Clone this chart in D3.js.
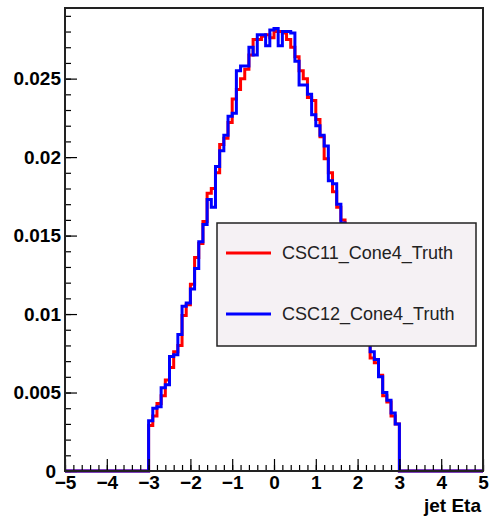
<!DOCTYPE html>
<html>
<head>
<meta charset="utf-8">
<script src="https://cdn.jsdelivr.net/npm/d3@7/dist/d3.min.js"></script>
<style>
    body { margin: 0; background: #fff; }
    text { font-family: "Liberation Sans", Arial, sans-serif; }
</style>
</head>
<body>
<div id="chart"></div>
<script>
// histogram binning (bins outside [-3, 3] are empty)
const binLow = -3;
const binWidth = 0.1;

const csc11 = [
    0.0029, 0.0035, 0.0043, 0.0048, 0.0058, 0.0066, 0.0076, 0.0080, 0.0099, 0.0106,
    0.0119, 0.0136, 0.0145, 0.0159, 0.0177, 0.0180, 0.0190, 0.0208, 0.0212, 0.0222,
    0.0237, 0.0243, 0.0250, 0.0256, 0.0265, 0.0275, 0.0275, 0.0277, 0.0278, 0.0276,
    0.0280, 0.0280, 0.0279, 0.0275, 0.0270, 0.0264, 0.0255, 0.0250, 0.0238, 0.0236,
    0.0224, 0.0213, 0.0199, 0.0190, 0.0178, 0.0168, 0.0160, 0.0147, 0.0136, 0.0123,
    0.0110, 0.0097, 0.0085, 0.0072, 0.0069, 0.0061, 0.0048, 0.0044, 0.0035, 0.0030
];

const csc12 = [
    0.0032, 0.0040, 0.0041, 0.0053, 0.0055, 0.0073, 0.0074, 0.0087, 0.0105, 0.0107,
    0.0116, 0.0129, 0.0146, 0.0157, 0.0173, 0.0168, 0.0194, 0.0204, 0.0214, 0.0226,
    0.0228, 0.0255, 0.0258, 0.0258, 0.0270, 0.0265, 0.0278, 0.0278, 0.0271, 0.0281,
    0.0282, 0.0271, 0.0280, 0.0280, 0.0279, 0.0261, 0.0246, 0.0246, 0.0240, 0.0227,
    0.0220, 0.0214, 0.0207, 0.0185, 0.0183, 0.0170, 0.0158, 0.0148, 0.0135, 0.0122,
    0.0110, 0.0098, 0.0086, 0.0076, 0.0071, 0.0060, 0.0050, 0.0045, 0.0037, 0.0030
];

const seriesNames = ['CSC11_Cone4_Truth', 'CSC12_Cone4_Truth'];
const seriesColors = ['#ff0000', '#0000ff'];

const xTicks = [-5, -4, -3, -2, -1, 0, 1, 2, 3, 4, 5];
const yTicks = [0, 0.005, 0.01, 0.015, 0.02, 0.025];
const yTickLabels = ['0', '0.005', '0.01', '0.015', '0.02', '0.025'];
const xTitle = 'jet Eta';

const width = 490;
const height = 520;

const x = d3.scaleLinear().domain([-5, 5]).range([65, 483]);
const y = d3.scaleLinear().domain([0, 0.0295]).range([471, 8]);

/**
 * Turn bin contents into points for a step line over the full axis
 * @param {[number]} values bin contents
 * @return {[[number, number]]}
 */
function stepPoints(values) {
    let pts = [[-5, 0]];
    values.forEach(function(v, i) {
        pts.push([binLow + i * binWidth, v]);
    });
    pts.push([binLow + values.length * binWidth, 0]);
    pts.push([5, 0]);
    return pts;
}

let svg = d3.select('#chart').append('svg')
    .attr('width', width)
    .attr('height', height);

svg.append('rect')
    .attr('width', width)
    .attr('height', height)
    .attr('fill', '#fff');

const line = d3.line()
    .x(d => x(d[0]))
    .y(d => y(d[1]))
    .curve(d3.curveStepAfter);

[csc11, csc12].forEach(function(values, i) {
    svg.append('path')
        .datum(stepPoints(values))
        .attr('d', line)
        .attr('fill', 'none')
        .attr('stroke', seriesColors[i])
        .attr('stroke-width', 3);
});

// minor ticks
svg.append('g')
    .attr('transform', 'translate(' + x.range()[0] + ',0)')
    .call(d3.axisLeft(y).tickValues(d3.range(0, 0.0291, 0.001)).tickSize(-6).tickFormat(''))
    .call(g => g.select('.domain').remove());

svg.append('g')
    .attr('transform', 'translate(0,' + y.range()[0] + ')')
    .call(d3.axisBottom(x).tickValues(d3.range(-5, 5.01, 0.2)).tickSize(-6).tickFormat(''))
    .call(g => g.select('.domain').remove());

// major ticks + labels
svg.append('g')
    .attr('transform', 'translate(' + x.range()[0] + ',0)')
    .call(d3.axisLeft(y).tickValues(yTicks).tickSize(-12).tickPadding(4)
        .tickFormat((d, i) => yTickLabels[i]))
    .call(g => g.select('.domain').remove())
    .selectAll('text')
    .attr('fill', '#000')
    .attr('x', d => d === 0 ? -9 : -4)
    .style('font-size', '19px')
    .style('font-weight', 'bold');

svg.append('g')
    .attr('transform', 'translate(0,' + y.range()[0] + ')')
    .call(d3.axisBottom(x).tickValues(xTicks).tickSize(-12).tickPadding(5))
    .call(g => g.select('.domain').remove())
    .selectAll('text')
    .attr('fill', '#000')
    .style('font-size', '19px')
    .style('font-weight', 'bold');

svg.selectAll('.tick line').attr('stroke', '#000').attr('stroke-width', 1.2);

// frame
svg.append('rect')
    .attr('x', x.range()[0])
    .attr('y', y.range()[1])
    .attr('width', x.range()[1] - x.range()[0])
    .attr('height', y.range()[0] - y.range()[1])
    .attr('fill', 'none')
    .attr('stroke', '#222')
    .attr('stroke-width', 2);

svg.append('text')
    .attr('x', 481)
    .attr('y', 512)
    .attr('text-anchor', 'end')
    .style('font-size', '19px')
    .style('font-weight', 'bold')
    .text(xTitle);

// legend
let legend = svg.append('g');

legend.append('rect')
    .attr('x', 217)
    .attr('y', 223)
    .attr('width', 259)
    .attr('height', 123)
    .attr('fill', '#f5f1f4')
    .attr('stroke', '#222')
    .attr('stroke-width', 1.5);

seriesNames.forEach(function(name, i) {
    const ly = 253 + i * 61;
    legend.append('line')
        .attr('x1', 226)
        .attr('x2', 271)
        .attr('y1', ly)
        .attr('y2', ly)
        .attr('stroke', seriesColors[i])
        .attr('stroke-width', 3);
    legend.append('text')
        .attr('x', 282)
        .attr('y', ly)
        .attr('dy', '0.35em')
        .attr('fill', '#222')
        .style('font-size', '18px')
        .text(name);
});
</script>
</body>
</html>
